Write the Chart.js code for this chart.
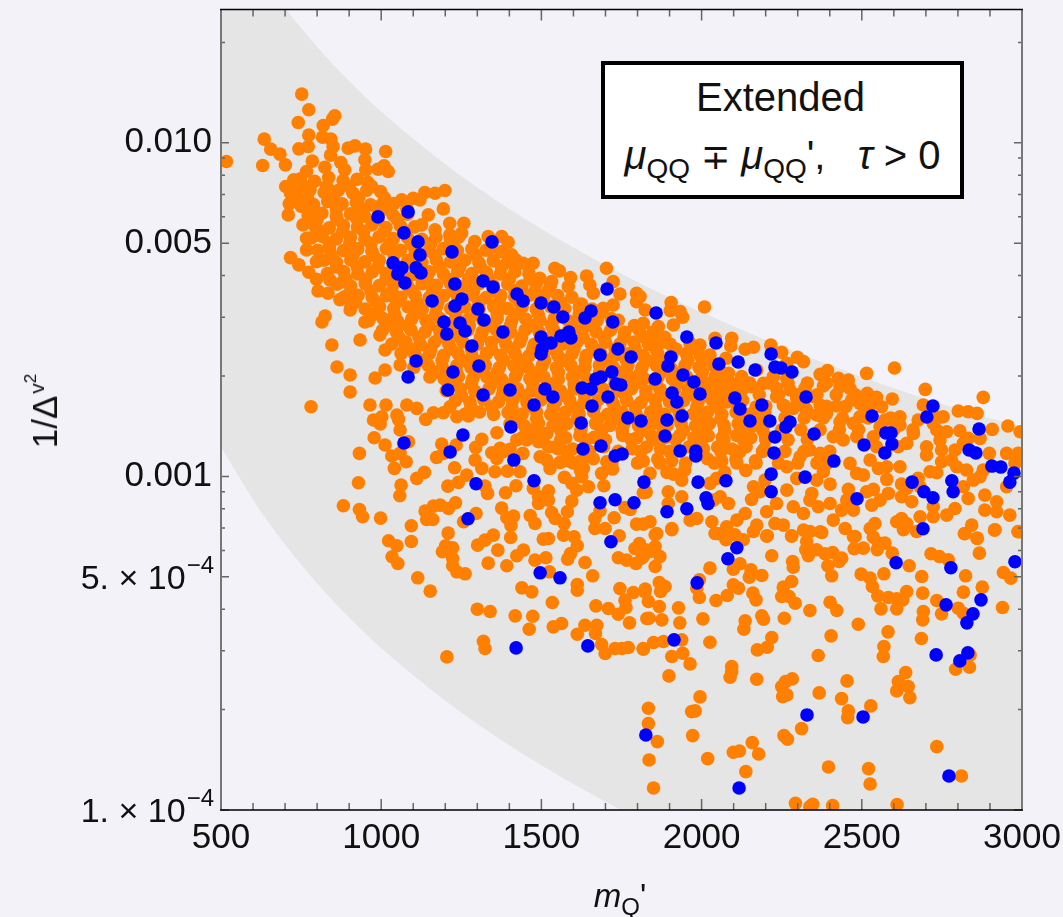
<!DOCTYPE html>
<html>
<head>
<meta charset="utf-8">
<script src="https://cdn.jsdelivr.net/npm/chart.js@4/dist/chart.umd.min.js"></script>
<style>
  html, body { margin: 0; background: #f2f2f8; }
  body { width: 1063px; height: 917px; position: relative; overflow: hidden; font-family: "Liberation Sans", Arial, sans-serif; color: #111; }
  canvas { position: absolute; left: 0; top: 0; }
  .note { position: absolute; left: 601px; top: 61px; width: 355px; height: 130px; background: #fff; border: 4px solid #000; text-align: center; }
  .note div { position: absolute; left: 0; right: 0; white-space: pre; }
  .l1 { top: 10px; left: -4px !important; font-size: 40px; }
  .l2 { top: 68px; font-size: 40px; }
  .l2 .pm { font-size: 35px; }
  .l2 .tau { margin-left: 10px; }
  sub, sup { line-height: 0; }
  .l2 sub { font-size: 28px; }
  .ytitle { position: absolute; left: 45px; top: 411px; font-size: 35px; transform: translate(-50%, -50%) rotate(-90deg); white-space: nowrap; }
  .xtitle { position: absolute; left: 620px; top: 896px; font-size: 33px; transform: translate(-50%, -50%); white-space: nowrap; }
  .xtitle sub { font-size: 24px; }
  .ytitle sup { font-size: 21px; margin-left: 2px; }
  .ytitle sup sup { font-size: 17px; margin-left: 0; }
</style>
</head>
<body>
<canvas id="chart" width="1063" height="917"></canvas>
<div class="note">
  <div class="l1">Extended</div>
  <div class="l2"><i>μ</i><sub>QQ</sub> <span class="pm">∓</span> <i>μ</i><sub>QQ</sub>',  <i class="tau">τ</i> &gt; 0</div>
</div>
<div class="ytitle">1/Δ<sup>v<sup>2</sup></sup></div>
<div class="xtitle"><i>m</i><sub>Q</sub>'</div>
<script>
// axis ticks
const xMajor = [500, 1000, 1500, 2000, 2500, 3000];
const xMinor = [600, 700, 800, 900, 1100, 1200, 1300, 1400, 1600, 1700, 1800, 1900, 2100, 2200, 2300, 2400, 2600, 2700, 2800, 2900];
const yMajor = [0.0001, 0.0005, 0.001, 0.005, 0.01];
const yPlainLabels = ['', '', '0.001', '0.005', '0.010'];
const yPowerLabels = [['1. × 10', '−4'], ['5. × 10', '−4']];
const yMinor = [0.0002, 0.0003, 0.0004, 0.0006, 0.0007, 0.0008, 0.0009, 0.002, 0.003, 0.004, 0.006, 0.007, 0.008, 0.009, 0.02];

// grey allowed band, y values are log10(1/Δ²)
const bandX = [500, 600, 700, 800, 900, 1000, 1200, 1400, 1600, 1800, 2000, 2200, 2400, 2600, 2800, 3000];
const bandUpper = [-1.304, -1.462, -1.596, -1.712, -1.815, -1.906, -2.064, -2.198, -2.314, -2.417, -2.508, -2.591, -2.666, -2.736, -2.798, -2.853];
const bandLower = [-2.912, -3.070, -3.204, -3.320, -3.423, -3.514, -3.672, -3.806, -3.922, -4.025, -4.116, -4.199, -4.274, -4.344, -4.408, -4.468];

// points as [m_Q', log10(1/Δ²)]
const bluePoints = [
[990,-2.222],[1084,-2.207],[1071,-2.270],[1115,-2.297],[1121,-2.336],[1221,-2.327],[1037,-2.360],[1065,-2.375],[1052,-2.393],[1109,-2.375],[1124,-2.390],[1074,-2.420],[1230,-2.423],[1318,-2.414],[1346,-2.297],[1349,-2.432],[1159,-2.474],[1252,-2.468],[1230,-2.489],[1302,-2.498],[1321,-2.531],[1424,-2.453],[1443,-2.474],[1499,-2.480],[1539,-2.492],[1567,-2.522],[1196,-2.537],[1246,-2.540],[1262,-2.564],[1205,-2.573],[1380,-2.567],[1499,-2.582],[1530,-2.600],[1561,-2.579],[1586,-2.567],[1592,-2.585],[1502,-2.618],[1499,-2.633],[1283,-2.609],[1109,-2.654],[1224,-2.687],[1305,-2.669],[1084,-2.702],[1208,-2.741],[1318,-2.756],[1402,-2.741],[1511,-2.738],[1536,-2.762],[1477,-2.786],[1705,-2.438],[1655,-2.504],[1636,-2.525],[1723,-2.537],[1739,-2.618],[1683,-2.636],[1780,-2.642],[1720,-2.687],[1686,-2.702],[1670,-2.708],[1627,-2.735],[1655,-2.738],[1733,-2.723],[1748,-2.726],[1708,-2.762],[1658,-2.789],[1855,-2.708],[1858,-2.510],[1954,-2.582],[2045,-2.600],[1904,-2.642],[1895,-2.669],[2114,-2.657],[2054,-2.663],[2217,-2.633],[2167,-2.681],[2229,-2.672],[2248,-2.675],[2282,-2.687],[1942,-2.696],[1976,-2.717],[1995,-2.753],[1908,-2.750],[1923,-2.777],[2104,-2.765],[2120,-2.798],[2188,-2.786],[2326,-2.762],[1939,-2.819],[1892,-2.831],[1811,-2.834],[2151,-2.834],[2213,-2.834],[2276,-2.837],[2263,-2.852],[2229,-2.882],[2351,-2.873],[1886,-2.879],[2532,-2.819],[2722,-2.789],[2703,-2.822],[2575,-2.870],[2591,-2.870],[2866,-2.858],[2594,-2.903],[2507,-2.906],[2572,-2.930],[2835,-2.921],[2856,-2.930],[1933,-2.924],[1982,-2.924],[1982,-2.939],[2226,-2.930],[2413,-2.954],[2906,-2.969],[2934,-2.972],[2975,-2.990],[2962,-3.017],[2217,-2.993],[2323,-3.002],[1820,-3.017],[1989,-3.017],[2076,-3.013],[2657,-3.017],[2781,-3.013],[2694,-3.046],[2722,-3.064],[2785,-3.046],[2217,-3.046],[2014,-3.064],[2020,-3.082],[2485,-3.067],[1954,-3.097],[1892,-3.106],[2691,-3.157],[1071,-2.900],[1255,-2.876],[1215,-2.927],[1405,-2.852],[1624,-2.840],[1770,-2.825],[1686,-2.909],[1630,-2.918],[1730,-2.939],[1752,-2.933],[1414,-2.951],[1477,-3.013],[1296,-3.022],[1683,-3.079],[1730,-3.070],[1789,-3.079],[1271,-3.127],[1717,-3.196],[1496,-3.289],[1558,-3.304],[1421,-3.514],[1645,-3.508],[2110,-3.214],[2082,-3.247],[2607,-3.259],[1986,-3.319],[2778,-3.274],[2978,-3.256],[2763,-3.385],[2872,-3.370],[2847,-3.412],[2828,-3.439],[1914,-3.490],[2732,-3.535],[2831,-3.529],[2806,-3.553],[2329,-3.715],[2504,-3.721],[1826,-3.775],[2117,-3.934],[2772,-3.898]
];

// upper left strays
const orangeTop = [
[517,-2.056],[752,-1.854],[774,-1.901],[741,-1.939],[855,-1.919],[848,-1.929],[819,-1.948],[635,-1.989],[774,-1.977],[817,-1.983],[843,-1.989],[655,-2.019],[684,-2.034],[743,-2.018],[772,-2.011],[850,-2.011],[842,-2.037],[897,-2.016],[918,-2.009],[951,-2.019],[1014,-2.026],[630,-2.068],[701,-2.066],[785,-2.055],[949,-2.051],[952,-2.081],[1009,-2.069],[990,-2.079],[1022,-2.086],[824,-2.073],[874,-2.059],[886,-2.081],[767,-2.086],[727,-2.111],[702,-2.131],[717,-2.151],[713,-2.183],[710,-2.216],[751,-2.191],
[1199,-2.143],[1168,-2.151],[1136,-2.149],[1121,-2.171],[1194,-2.198],[1147,-2.216],[1064,-2.171],[1100,-2.166],[1027,-2.186],[1001,-2.186],[1214,-2.241],[1258,-2.241],[1168,-2.261],[1126,-2.246],[1334,-2.281],[1376,-2.281],[1396,-2.298],[1407,-2.336],[1376,-2.326],[1292,-2.296],[1251,-2.271],[1214,-2.276],[1474,-2.361],[1443,-2.361],[1542,-2.376],[1556,-2.384],[1591,-2.404],[1641,-2.399],[1703,-2.376],[1724,-2.416],[1651,-2.426],[1584,-2.431],[1532,-2.416],[1495,-2.406],[1745,-2.453],[1797,-2.451],[1797,-2.476],[1662,-2.451],[1625,-2.483],[1724,-2.486],[1693,-2.496],
[717,-2.344],[743,-2.366],[774,-2.388],[798,-2.409],[803,-2.444],[834,-2.451],[897,-2.456],[756,-2.246],[767,-2.286],[767,-2.321],[798,-2.356],[840,-2.411],[881,-2.416],[825,-2.519],[815,-2.537],[846,-2.606],[862,-2.672],[903,-2.696],[981,-2.705],[1012,-2.681],[934,-2.591],[1012,-2.621],[1074,-2.606],[1059,-2.666],[1121,-2.606],[965,-2.786],[1049,-2.816],[1059,-2.861],[903,-2.747],[871,-2.470],[903,-2.501],[949,-2.537],[996,-2.576],[1043,-2.546]
];

// dense core, row by row
const orangeCore = [
[748,-2.108],[792,-2.115],[836,-2.104],[881,-2.113],[925,-2.109],[958,-2.118],
[733,-2.148],[778,-2.141],[822,-2.149],[866,-2.143],[911,-2.150],[955,-2.142],[998,-2.146],
[745,-2.178],[789,-2.185],[833,-2.176],[878,-2.183],[922,-2.179],[967,-2.186],[1011,-2.177],[1040,-2.182],
[772,-2.218],[815,-2.211],[860,-2.219],[904,-2.213],[948,-2.220],[993,-2.212],[1037,-2.217],[1082,-2.214],
[792,-2.248],[838,-2.255],[882,-2.247],[926,-2.253],[971,-2.246],[1015,-2.254],[1060,-2.249],[1104,-2.252],
[782,-2.285],[816,-2.281],[860,-2.288],[904,-2.283],[949,-2.290],[993,-2.282],[1038,-2.287],[1082,-2.284],[1127,-2.289],[1171,-2.283],[1216,-2.288],[1242,-2.282],
[802,-2.322],[838,-2.316],[882,-2.323],[927,-2.318],[971,-2.325],[1016,-2.317],[1060,-2.322],[1105,-2.319],[1149,-2.324],[1194,-2.317],[1238,-2.323],[1283,-2.318],[1327,-2.322],[1340,-2.316],
[822,-2.352],[860,-2.358],[905,-2.351],[949,-2.357],[994,-2.352],[1038,-2.359],[1083,-2.353],[1127,-2.358],[1172,-2.351],[1216,-2.357],[1261,-2.352],[1305,-2.359],[1350,-2.353],[1394,-2.358],[1420,-2.351],
[832,-2.392],[883,-2.386],[927,-2.393],[972,-2.387],[1016,-2.392],[1061,-2.386],[1105,-2.394],[1150,-2.387],[1194,-2.393],[1239,-2.386],[1283,-2.392],[1328,-2.388],[1372,-2.393],[1417,-2.387],[1461,-2.392],
[862,-2.424],[905,-2.429],[950,-2.422],[994,-2.428],[1039,-2.423],[1083,-2.430],[1128,-2.422],[1172,-2.427],[1217,-2.423],[1261,-2.429],[1306,-2.422],[1350,-2.428],[1395,-2.423],[1439,-2.429],[1484,-2.422],[1528,-2.428],
[883,-2.463],[928,-2.457],[972,-2.464],[1017,-2.458],[1061,-2.463],[1106,-2.457],[1150,-2.464],[1195,-2.458],[1239,-2.463],[1284,-2.457],[1328,-2.464],[1373,-2.458],[1417,-2.463],[1462,-2.457],[1506,-2.464],[1551,-2.458],[1595,-2.463],
[905,-2.492],[950,-2.498],[995,-2.491],[1039,-2.497],[1084,-2.492],[1128,-2.499],[1173,-2.491],[1217,-2.497],[1262,-2.492],[1306,-2.498],[1351,-2.491],[1395,-2.497],[1440,-2.492],[1484,-2.498],[1529,-2.491],[1573,-2.497],[1618,-2.492],[1658,-2.498],
[962,-2.533],[1006,-2.527],[1051,-2.534],[1095,-2.528],[1140,-2.533],[1184,-2.527],[1229,-2.534],[1273,-2.528],[1318,-2.533],[1362,-2.527],[1407,-2.534],[1451,-2.528],[1496,-2.533],[1540,-2.527],[1585,-2.534],[1629,-2.528],[1674,-2.533],[1718,-2.527],[1740,-2.532],
[1004,-2.562],[1048,-2.568],[1093,-2.561],[1137,-2.567],[1182,-2.562],[1226,-2.569],[1271,-2.561],[1315,-2.567],[1360,-2.562],[1404,-2.568],[1449,-2.561],[1493,-2.567],[1538,-2.562],[1582,-2.568],[1627,-2.561],[1671,-2.567],[1716,-2.562],[1760,-2.568],[1805,-2.561],[1848,-2.567],
[1033,-2.603],[1077,-2.597],[1122,-2.604],[1166,-2.598],[1211,-2.603],[1255,-2.597],[1300,-2.604],[1344,-2.598],[1389,-2.603],[1433,-2.597],[1478,-2.604],[1522,-2.598],[1567,-2.603],[1611,-2.597],[1656,-2.604],[1700,-2.598],[1745,-2.603],[1789,-2.597],[1834,-2.604],[1878,-2.598],[1902,-2.603],
[1062,-2.632],[1106,-2.638],[1151,-2.631],[1195,-2.637],[1240,-2.632],[1284,-2.639],[1329,-2.631],[1373,-2.637],[1418,-2.632],[1462,-2.638],[1507,-2.631],[1551,-2.637],[1596,-2.632],[1640,-2.638],[1685,-2.631],[1729,-2.637],[1774,-2.632],[1818,-2.638],[1863,-2.631],[1907,-2.637],[1952,-2.632],[1996,-2.638],
[1102,-2.673],[1147,-2.667],[1191,-2.674],[1236,-2.668],[1280,-2.673],[1325,-2.667],[1369,-2.674],[1414,-2.668],[1458,-2.673],[1503,-2.667],[1547,-2.674],[1592,-2.668],[1636,-2.673],[1681,-2.667],[1725,-2.674],[1770,-2.668],[1814,-2.673],[1859,-2.667],[1903,-2.674],[1948,-2.668],[1992,-2.673],[2037,-2.667],
[1152,-2.702],[1197,-2.708],[1241,-2.701],[1286,-2.707],[1330,-2.702],[1375,-2.709],[1419,-2.701],[1464,-2.707],[1508,-2.702],[1553,-2.708],[1597,-2.701],[1642,-2.707],[1686,-2.702],[1731,-2.708],[1775,-2.701],[1820,-2.707],[1864,-2.702],[1909,-2.708],[1953,-2.701],[1998,-2.707],[2042,-2.702],[2080,-2.708],
[1203,-2.743],[1247,-2.737],[1292,-2.744],[1336,-2.738],[1381,-2.743],[1425,-2.737],[1470,-2.744],[1514,-2.738],[1559,-2.743],[1603,-2.737],[1648,-2.744],[1692,-2.738],[1737,-2.743],[1781,-2.737],[1826,-2.744],[1870,-2.738],[1915,-2.743],[1959,-2.737],[2004,-2.744],[2048,-2.738],[2093,-2.743],[2128,-2.737],
[1232,-2.772],[1277,-2.778],[1321,-2.771],[1366,-2.777],[1410,-2.772],[1455,-2.779],[1499,-2.771],[1544,-2.777],[1588,-2.772],[1633,-2.778],[1677,-2.771],[1722,-2.777],[1766,-2.772],[1811,-2.778],[1855,-2.771],[1900,-2.777],[1944,-2.772],[1989,-2.778],[2033,-2.771],[2078,-2.777],[2128,-2.772],
[1262,-2.813],[1307,-2.807],[1351,-2.814],[1396,-2.808],[1440,-2.813],[1485,-2.807],[1529,-2.814],[1574,-2.808],[1618,-2.813],[1663,-2.807],[1707,-2.814],[1752,-2.808],[1796,-2.813],[1841,-2.807],[1885,-2.814],[1930,-2.808],[1974,-2.813],[2019,-2.807],[2063,-2.814],[2108,-2.808],[2152,-2.813],[2197,-2.807],
[1402,-2.842],[1447,-2.848],[1491,-2.841],[1536,-2.847],[1580,-2.842],[1625,-2.849],[1669,-2.841],[1714,-2.847],[1758,-2.842],[1803,-2.848],[1847,-2.841],[1892,-2.847],[1936,-2.842],[1981,-2.848],[2025,-2.841],[2070,-2.847],[2114,-2.842],[2159,-2.848],[2198,-2.841],
[1442,-2.883],[1487,-2.877],[1576,-2.884],[1620,-2.878],[1665,-2.883],[1754,-2.877],[1798,-2.884],[1843,-2.878],[1887,-2.883],[1932,-2.877],[1976,-2.884],[2021,-2.878],[2065,-2.883],[2110,-2.877],[2154,-2.884],[2199,-2.878],
[1542,-2.912],[1598,-2.918],[1694,-2.911],[1783,-2.917],[1828,-2.912],[1872,-2.918],[1961,-2.911],[2006,-2.917],[2050,-2.912],[2095,-2.918],[2139,-2.911],[2196,-2.917],
[1573,-2.953],[1662,-2.947],[1818,-2.954],[1863,-2.948],[1907,-2.953],[2018,-2.947],[2063,-2.954],[2107,-2.948],[2168,-2.953],
[1622,-2.982],[1892,-2.988],[1947,-2.981],[2072,-2.987],[2138,-2.982]
];

// points that close up the core, one row per log10 value
const fillRowsY = [-2.13, -2.165, -2.198, -2.23, -2.265, -2.302, -2.337, -2.372, -2.408, -2.444, -2.478, -2.513, -2.548, -2.583, -2.618, -2.652, -2.688, -2.722, -2.757, -2.792, -2.827, -2.862, -2.89, -2.925, -2.96, -2.72, -2.755, -2.79, -2.825, -2.86];
const fillRowsX = [
[760,830,900,970],
[770,850,930,1010],
[780,860,940,1020,1080],
[800,862,925,990,1050],
[815,880,945,1010,1072],
[838,902,968,1028,1093,1155,1220],
[845,912,975,1040,1105,1168,1232,1296],
[860,925,990,1053,1118,1182,1245,1310,1375],
[890,952,1015,1080,1143,1208,1272,1335,1400,1465],
[905,968,1033,1097,1160,1225,1288,1352,1417,1480,1520],
[920,985,1048,1112,1177,1240,1305,1368,1432,1497,1560],
[978,1042,1105,1170,1233,1298,1362,1425,1490,1553,1618,1680],
[1020,1083,1148,1212,1275,1340,1403,1468,1532,1595,1660,1723,1790],
[1055,1118,1183,1247,1310,1375,1438,1503,1567,1630,1695,1758,1822,1885],
[1090,1155,1218,1282,1345,1410,1473,1538,1602,1665,1730,1793,1857,1920,1980],
[1125,1190,1253,1318,1382,1445,1510,1573,1637,1702,1765,1830,1893,1957,2020],
[1170,1235,1298,1362,1425,1490,1553,1618,1682,1745,1810,1873,1937,2002,2060],
[1218,1282,1345,1410,1473,1538,1602,1665,1730,1793,1857,1922,1985,2050,2110],
[1250,1315,1378,1442,1507,1570,1635,1698,1762,1827,1890,1955,2018,2083],
[1280,1345,1408,1472,1537,1600,1665,1728,1793,1857,1920,1985,2048,2112,2170],
[1420,1485,1548,1612,1677,1740,1805,1868,1932,1997,2060,2125],
[1560,1623,1688,1752,1815,1880,1943,2008,2072,2135],
[1500,1560,1640,1700,1780,1850,1920,2000,2070,2130,2200,2270,2330],
[1580,1650,1740,1810,1900,1990,2060,2120,2190,2260,2320,2400],
[1600,1720,1800,1870,1950,2040,2110,2170,2240,2300,2360],
[2150,2210,2270,2330,2390],
[2120,2180,2240,2300,2360,2420,2480],
[2200,2260,2320,2390,2450,2510],
[2190,2260,2320,2380,2440,2520,2590],
[2190,2250,2310,2370,2430,2490,2600,2660]
];

// sparser points below the core and to the right
const orangeSparse = [
[781,-2.791],[1015,-2.786],[1080,-2.786],[1111,-2.796],[976,-2.831],[1002,-2.821],[997,-2.843],[1054,-2.829],[1139,-2.829],[1163,-2.809],[1194,-2.809],[1236,-2.821],[1272,-2.819],[1215,-2.791],[978,-2.884],[1012,-2.906],[932,-2.931],[1033,-2.939],[1059,-2.931],[1085,-2.896],[1078,-2.956],[1041,-2.976],[1189,-2.903],[1234,-2.906],[1173,-2.943],[1194,-2.931],[1314,-2.889],[1295,-2.913],[1361,-2.869],[1293,-2.951],[1314,-2.976],[1229,-2.974],[1135,-2.988],[1111,-3.006],[1267,-2.996],[1241,-3.018],[1208,-3.029],[929,-3.019],[1062,-3.026],[1058,-3.058],[1324,-3.029],[1332,-3.051],[1355,-2.986],[1394,-2.984],[1433,-2.986],[1421,-3.028],[1388,-3.049],[1345,-2.929],[1361,-2.946],[1381,-2.926],[1402,-2.919],[1371,-2.916],[1442,-2.931],[882,-3.088],[932,-3.099],[942,-3.121],[998,-3.125],[1094,-3.148],[1094,-3.195],[1023,-3.193],[1049,-3.208],[1034,-3.241],[1052,-3.261],[1114,-3.304],[1153,-3.344],[1137,-3.104],[1163,-3.089],[1184,-3.086],[1210,-3.096],[1232,-3.079],[1142,-3.129],[1161,-3.129],[1296,-3.111],[1257,-3.136],[1209,-3.170],[1201,-3.208],[1223,-3.214],[1191,-3.226],[1223,-3.246],[1223,-3.268],[1236,-3.286],[1262,-3.292],[1376,-3.095],[1413,-3.119],[1392,-3.124],[1405,-3.147],[1350,-3.176],[1324,-3.191],[1301,-3.206],[1404,-3.183],[1364,-3.221],[1444,-3.221],[1423,-3.238],[1334,-3.260],[1392,-3.268],[1465,-3.117],[1480,-3.141],[1532,-3.108],[1543,-3.126],[1571,-3.141],[1581,-3.106],[1595,-3.074],[1522,-3.186],[1506,-3.188],[1569,-3.176],[1602,-3.181],[1612,-3.208],[1591,-3.231],[1582,-3.248],[1636,-3.258],[1660,-3.298],[1480,-3.251],[1514,-3.244],[1525,-3.286],[1439,-3.334],[1470,-3.346],[1534,-3.378],[1612,-3.324],[1612,-3.341],[1670,-3.388],[1300,-3.398],[1340,-3.405],[1418,-3.418],[1473,-3.419],[1462,-3.458],[1537,-3.451],[1563,-3.441],[1636,-3.446],[1673,-3.446],[1669,-3.471],[1612,-3.473],[1319,-3.494],[1324,-3.516],[1205,-3.541],[1709,-3.396],[1740,-3.413],[1764,-3.393],[1761,-3.371],[1745,-3.336],[1787,-3.348],[1823,-3.346],[1775,-3.439],[1829,-3.426],[1688,-3.504],[1699,-3.531],[1730,-3.516],[1771,-3.513],[1751,-3.516],[1818,-3.516],[1475,-3.036],[1491,-3.061],[1522,-3.043],[1522,-3.071],[1491,-3.081],[1506,-3.061],[1572,-3.003],[1595,-3.021],[1610,-3.041],[1626,-3.001],[1647,-3.031],[1695,-3.028],[1688,-2.991],[1722,-2.978],[1704,-2.956],[1631,-2.976],[1626,-2.951],[1558,-2.958],[1589,-2.954],[1496,-2.941],[1527,-2.976],[1517,-2.951],[1553,-2.918],[1522,-2.911],[1517,-2.871],[1491,-2.896],[1423,-2.891],[1454,-2.891],[1465,-2.861],[1667,-3.126],[1667,-3.156],[1699,-3.156],[1727,-3.124],[1743,-3.178],[1683,-3.103],[1761,-3.093],[1777,-3.099],[1740,-3.244],[1766,-3.251],[1795,-3.261],[1797,-3.143],[1818,-3.143],[1806,-3.201],[1792,-3.216],[1829,-3.221],[1818,-3.241],[1818,-3.049],
[1855,-3.175],[1907,-3.160],[2052,-3.172],[2076,-3.190],[2104,-3.175],[2130,-3.190],[2162,-3.165],[2205,-3.178],[2281,-3.178],[2328,-3.195],[2375,-3.168],[2338,-3.165],[2479,-3.180],[2536,-3.182],[2572,-3.200],[2552,-3.200],[2630,-3.160],[2671,-3.165],[2820,-3.172],[2860,-3.185],[2916,-3.160],[2988,-3.165],[1855,-3.210],[1870,-3.240],[1818,-3.225],[1839,-3.225],[1813,-3.245],[1855,-3.270],[2219,-3.238],[2325,-3.220],[2359,-3.220],[2333,-3.238],[2385,-3.232],[2409,-3.228],[2437,-3.245],[2429,-3.255],[2284,-3.255],[2286,-3.272],[2394,-3.268],[2406,-3.298],[2476,-3.217],[2505,-3.215],[2548,-3.220],[2595,-3.230],[2716,-3.232],[2742,-3.240],[2770,-3.250],[2648,-3.268],[2867,-3.230],[2026,-3.275],[2120,-3.262],[2099,-3.278],[2154,-3.280],[2149,-3.302],[2188,-3.297],[2569,-3.292],[2498,-3.293],[2526,-3.305],[2533,-3.330],[2687,-3.300],[2824,-3.298],[2942,-3.288],[2965,-3.305],[1993,-3.310],[1985,-3.335],[1993,-3.363],[1868,-3.318],[1886,-3.330],[1872,-3.345],[1824,-3.338],[2099,-3.325],[2115,-3.335],[2080,-3.357],[2045,-3.372],[2160,-3.350],[2170,-3.370],[2281,-3.315],[2255,-3.332],[2250,-3.360],[2273,-3.360],[2292,-3.380],[2401,-3.377],[2422,-3.402],[2338,-3.402],[2550,-3.358],[2583,-3.363],[2609,-3.367],[2628,-3.370],[2640,-3.345],[2690,-3.350],[2560,-3.397],[2609,-3.397],[2817,-3.347],[2876,-3.332],[2734,-3.372],[2801,-3.395],[2817,-3.410],[2749,-3.412],[2692,-3.405],[2690,-3.430],[2939,-3.393],[1834,-3.375],[1868,-3.390],[1928,-3.394],[1836,-3.425],[1876,-3.430],[1932,-3.439],[2004,-3.427],[2136,-3.433],[2132,-3.458],[2188,-3.418],[2193,-3.428],[2258,-3.425],[2489,-3.443],[2404,-3.478],[2582,-3.466],[2686,-3.486],[2026,-3.497],[2219,-3.483],[2205,-3.512],[2174,-3.520],[1818,-3.518],[1850,-3.498],[1881,-3.495],[1938,-3.490],[1907,-3.540],[1941,-3.530],[1964,-3.562],[2569,-3.510],[2567,-3.540],[2364,-3.537],[2838,-3.535],[2793,-3.578],[2836,-3.572],[2094,-3.570],[2094,-3.585],[2089,-3.602],[1898,-3.598],[2172,-3.608],[2637,-3.588],[2614,-3.615],[2645,-3.630],[2609,-3.643],[2650,-3.663],[2283,-3.607],[2262,-3.615],[2250,-3.630],[2266,-3.655],[2253,-3.660],[2454,-3.613],[2367,-3.649],[2437,-3.666],[2528,-3.688],[2458,-3.703],[2456,-3.723],[1995,-3.661],[1834,-3.695],[1980,-3.703],[1969,-3.705],[1834,-3.741],[1972,-3.777],[1862,-3.795],[1836,-3.850],[2019,-3.846],[1850,-3.934],[2312,-3.756],[2257,-3.777],[2268,-3.788],[2158,-3.798],[2099,-3.827],[2118,-3.823],[2178,-3.832],[2138,-3.885],[2396,-3.871],[2521,-3.876],[2526,-3.922],[2734,-3.810],[2811,-3.898],[2293,-3.980],[2338,-3.990],[2347,-3.983],[2409,-3.987],[2610,-3.984],
[1905,-2.479],[1933,-2.506],[1902,-2.503],[1941,-2.523],[2009,-2.492],[1912,-2.546],[1865,-2.551],[1865,-2.581],[1808,-2.461],[1824,-2.501],[1818,-2.541],[2042,-2.586],[2094,-2.586],[2091,-2.609],[2162,-2.613],[2136,-2.619],[2216,-2.606],[2250,-2.628],[2299,-2.643],[2318,-2.656],[1995,-2.606],[1964,-2.601],[2026,-2.636],[2076,-2.646],[2266,-2.661],[2370,-2.694],[2393,-2.683],[2515,-2.691],[2602,-2.675],[2427,-2.706],[2458,-2.711],[2698,-2.739],[2879,-2.763],[2595,-2.768],[2517,-2.751],[2546,-2.763],[2380,-2.729],[2323,-2.736],[2432,-2.731],[2463,-2.736],[2349,-2.761],[2370,-2.786],[2422,-2.789],[2468,-2.771],[2494,-2.781],[2526,-2.786],[2562,-2.791],[2276,-2.741],[2297,-2.766],[2234,-2.736],[2224,-2.701],[2266,-2.706],[2193,-2.721],[2172,-2.681],[2125,-2.701],[2084,-2.691],[2047,-2.701],[2026,-2.721],[2068,-2.721],[2156,-2.731],[2052,-2.756],[2255,-2.786],[2286,-2.796],[2234,-2.761],[2328,-2.801],[2390,-2.811],[2359,-2.816],[2692,-2.786],[2754,-2.821],[2739,-2.823],[2801,-2.804],[2832,-2.806],[2860,-2.811],[2619,-2.821],[2572,-2.831],[2676,-2.831],[2723,-2.841],[2765,-2.866],[2734,-2.861],[2619,-2.846],[2806,-2.863],[2832,-2.886],[2869,-2.886],[2907,-2.859],[2956,-2.849],[2994,-2.866],[2817,-2.901],[2474,-2.841],[2432,-2.836],[2494,-2.821],[2411,-2.881],[2442,-2.891],[2484,-2.881],[2536,-2.881],[2557,-2.851],[2661,-2.871],[2640,-2.901],[2614,-2.911],[2702,-2.911],[2744,-2.891],[2702,-2.936],[2749,-2.921],[2749,-2.956],[2791,-2.921],[2780,-2.951],[2796,-2.971],[2827,-2.981],[2713,-2.986],[2734,-2.989],[2898,-2.931],[2952,-2.931],[2988,-2.931],[2978,-2.961],[2879,-2.981],[2869,-3.001],[2848,-3.011],[2817,-3.031],[2952,-3.031],[2546,-2.911],[2526,-2.951],[2463,-2.961],[2484,-2.991],[2505,-2.996],[2578,-3.009],[2619,-2.971],[2578,-2.971],[2552,-2.976],[2624,-3.023],[2676,-3.006],[2682,-3.031],[2640,-3.036],[2370,-2.931],[2338,-2.921],[2307,-2.941],[2390,-2.961],[2359,-3.011],[2401,-3.023],[2380,-2.986],[2344,-3.051],[2338,-3.071],[2297,-3.006],[2266,-2.971],[2266,-3.041],[2234,-3.081],[2162,-3.031],[2182,-3.046],[2156,-3.069],[2198,-3.011],[2458,-3.039],[2515,-3.046],[2536,-3.039],[2583,-3.051],[2557,-3.071],[2531,-3.086],[2624,-3.061],[2656,-3.076],[2453,-3.071],[2401,-3.081],[2364,-3.091],[2437,-3.101],[2474,-3.101],[2723,-3.091],[2791,-3.096],[2765,-3.116],[2723,-3.121],[2682,-3.121],[2884,-3.056],[2832,-3.066],[2921,-3.076],[2884,-3.101],[2921,-3.106],[2962,-3.116],[2624,-3.126],[2609,-3.136],[2640,-3.141],[2843,-3.146],[2822,-3.171],[2914,-3.161],[2988,-3.166],[2860,-3.186],[2541,-3.141],[2526,-3.156],[2448,-3.156],[2411,-3.131],[2370,-3.166],[2318,-3.161],[2286,-3.091],[2318,-3.111],[2203,-3.106],[2229,-3.141],[2255,-3.146],[2172,-3.146],[2136,-3.111],[2110,-3.131],[2078,-3.151],[2042,-3.171],[2203,-3.179],[2281,-3.179],[2474,-3.181],[1985,-3.126],[1964,-3.131],[2032,-3.136],[1839,-3.136],[1907,-3.156],[1860,-3.171],[2058,-3.061],[2084,-3.081],[2037,-3.071],[2047,-3.006],[2026,-3.021],[1938,-3.011],[1912,-2.993],[1839,-2.991],[1896,-3.046],[1938,-3.061],[1896,-3.081],[1827,-3.047]
];

const toXY = p => ({ x: p[0], y: Math.pow(10, p[1]) });
const orangeFill = fillRowsX.flatMap((row, i) => row.map(m => [m, fillRowsY[i]]));
const orangeData = orangeTop.concat(orangeCore, orangeFill, orangeSparse).map(toXY);
const blueData = bluePoints.map(toXY);

const labelFont = '34px "Liberation Sans"';
const powerFont = '24px "Liberation Sans"';

// ticks, frame and the power-of-ten labels, placed through the chart scales
const framePlugin = {
    id: 'frame',
    afterDatasetsDraw(chart) {
        const { ctx, chartArea: a, scales: { x, y } } = chart;
        ctx.save();
        ctx.strokeStyle = '#666';
        ctx.lineWidth = 1.5;
        const xTick = (v, len) => {
            const px = x.getPixelForValue(v);
            ctx.beginPath();
            ctx.moveTo(px, a.bottom); ctx.lineTo(px, a.bottom - len);
            ctx.moveTo(px, a.top); ctx.lineTo(px, a.top + len);
            ctx.stroke();
        };
        const yTick = (v, len) => {
            const py = y.getPixelForValue(v);
            ctx.beginPath();
            ctx.moveTo(a.left, py); ctx.lineTo(a.left + len, py);
            ctx.moveTo(a.right, py); ctx.lineTo(a.right - len, py);
            ctx.stroke();
        };
        xMajor.forEach(v => xTick(v, 11));
        xMinor.forEach(v => xTick(v, 7));
        yMajor.forEach(v => yTick(v, 8));
        yMinor.forEach(v => yTick(v, 4));
        ctx.strokeStyle = '#777';
        ctx.lineWidth = 2;
        ctx.beginPath();
        ctx.moveTo(a.left, a.top); ctx.lineTo(a.left, a.bottom);
        ctx.moveTo(a.right, a.top); ctx.lineTo(a.right, a.bottom);
        ctx.stroke();
        ctx.strokeStyle = '#000';
        ctx.lineWidth = 1.5;
        ctx.beginPath();
        ctx.moveTo(a.left - 1, a.top); ctx.lineTo(a.right + 1, a.top);
        ctx.moveTo(a.left - 1, a.bottom); ctx.lineTo(a.right + 1, a.bottom);
        ctx.stroke();

        ctx.fillStyle = '#111';
        ctx.textAlign = 'right';
        ctx.textBaseline = 'alphabetic';
        yPowerLabels.forEach((label, i) => {
            const py = y.getPixelForValue(yMajor[i]);
            ctx.font = powerFont;
            ctx.fillText(label[1], 214, py - 4);
            const w = ctx.measureText(label[1]).width;
            ctx.font = labelFont;
            ctx.fillText(label[0], 214 - w - 1, py + 12);
        });
        ctx.restore();
    }
};

new Chart(document.getElementById('chart').getContext('2d'), {
    type: 'scatter',
    data: {
        datasets: [
            { data: blueData, backgroundColor: '#0000ff', borderWidth: 0, pointRadius: 6.8, order: 1, clip: 0 },
            { data: orangeData, backgroundColor: '#ff7f00', borderWidth: 0, pointRadius: 6.8, order: 2, clip: 0 },
            {
                data: bandX.map((m, i) => ({ x: m, y: Math.pow(10, bandUpper[i]) })),
                showLine: true, pointRadius: 0, borderWidth: 0, cubicInterpolationMode: 'monotone',
                fill: '+1', backgroundColor: '#e5e5e5', order: 3
            },
            {
                data: bandX.map((m, i) => ({ x: m, y: Math.pow(10, bandLower[i]) })),
                showLine: true, pointRadius: 0, borderWidth: 0, cubicInterpolationMode: 'monotone',
                fill: false, order: 4
            }
        ]
    },
    options: {
        responsive: false,
        animation: false,
        layout: { padding: { left: 0, top: 9.5, right: 41, bottom: 0 } },
        plugins: { legend: { display: false }, tooltip: { enabled: false } },
        scales: {
            x: {
                type: 'linear',
                min: 500,
                max: 3000,
                grid: { display: false },
                border: { display: false },
                afterFit: s => { s.height = 107; s.paddingLeft = 0; s.paddingRight = 0; },
                afterBuildTicks: s => { s.ticks = xMajor.map(v => ({ value: v })); },
                ticks: {
                    autoSkip: false, maxRotation: 0, padding: -1, color: '#111',
                    font: { family: '"Liberation Sans"', size: 35 },
                    callback: v => String(v)
                }
            },
            y: {
                type: 'logarithmic',
                min: 0.0001,
                max: 0.0251,
                grid: { display: false },
                border: { display: false },
                afterFit: s => { s.width = 221; s.paddingTop = 0; s.paddingBottom = 0; },
                afterBuildTicks: s => { s.ticks = yMajor.map(v => ({ value: v })); },
                ticks: {
                    autoSkip: false, padding: 1, color: '#111',
                    font: { family: '"Liberation Sans"', size: 35 },
                    callback: v => yPlainLabels[yMajor.indexOf(v)]
                }
            }
        }
    },
    plugins: [framePlugin]
});
</script>
</body>
</html>
